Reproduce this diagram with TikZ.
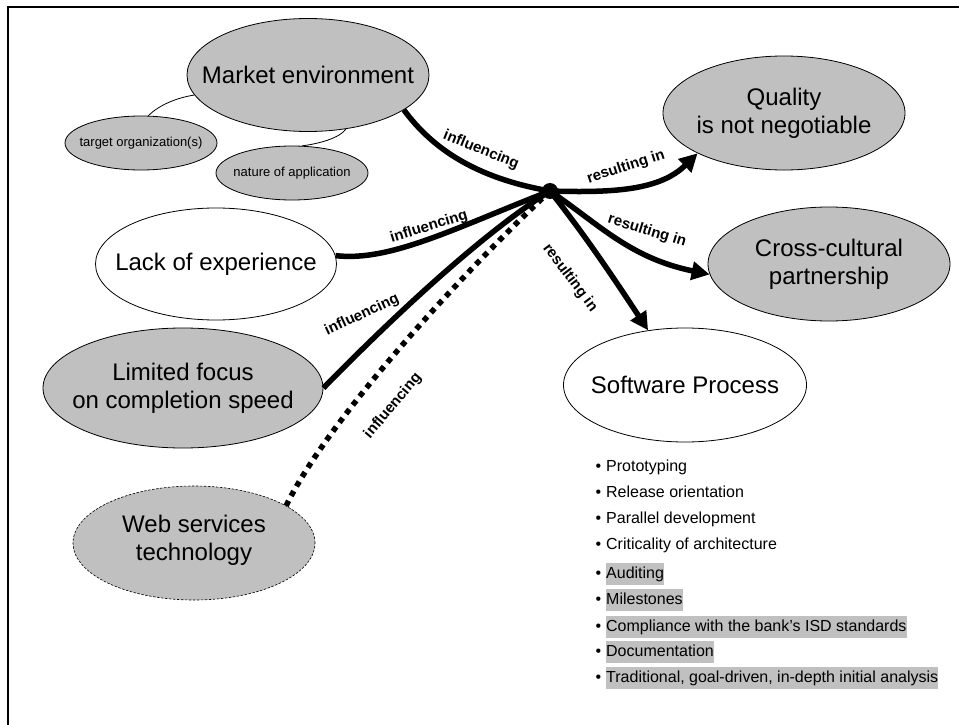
\documentclass[tikz,border=0pt]{standalone}
\usepackage{fontspec}
\setmainfont{Liberation Sans}
\usetikzlibrary{shapes.geometric,arrows.meta}
\definecolor{fillgray}{RGB}{192,192,192}
\begin{document}
\begin{tikzpicture}[x=1pt,y=-1pt,
  ell/.style={ellipse, draw, line width=0.8pt, inner sep=0pt,
    minimum width=242pt, minimum height=113pt},
  bigtxt/.style={align=center, inner sep=0pt, font=\fontsize{24}{28}\selectfont},
  smallell/.style={ellipse, draw, line width=0.8pt, fill=fillgray, inner sep=0pt,
    minimum width=152pt, minimum height=54pt},
  smalltxt/.style={inner sep=0pt, font=\fontsize{13}{15}\selectfont},
  thinconn/.style={line width=0.8pt},
  conn/.style={line width=5.5pt},
  dotconn/.style={line width=5.5pt, dash pattern=on 5.5pt off 5.5pt},
  arr/.style={conn, -{Triangle[length=18pt,width=18pt]}},
  lbl/.style={font=\bfseries\fontsize{15}{17}\selectfont, inner sep=0pt},
  item/.style={anchor=west, inner xsep=0pt, inner ysep=3pt, text height=12pt,
    text depth=4pt, font=\fontsize{16}{18}\selectfont},
  hl/.style={fill=fillgray}
]
\useasboundingbox (0,0) rectangle (959,725);
% frame
\coordinate (fbl) at (8,725);
\coordinate (ftl) at (8,7);
\coordinate (ftr) at (959,7);
\draw[line width=2pt] (fbl) -- (ftl) -- (ftr);

% ellipses
\node[ell, fill=fillgray] (me) at (308,75) {};
\node[smallell] (to) at (141,143) {};
\node[smallell] (na) at (292,173) {};
\node[ell, fill=white, minimum width=241pt, minimum height=112pt] (le) at (216,264) {};
\node[ell, fill=fillgray, minimum width=280pt, minimum height=120pt] (lf) at (183,388) {};
\node[ell, fill=fillgray, line width=0.6pt, dash pattern=on 2.5pt off 1.5pt, minimum height=114pt] (ws) at (194,543) {};
\node[ell, fill=fillgray, minimum height=114pt] (q) at (784,113) {};
\node[ell, fill=fillgray, minimum height=114pt] (cc) at (829,264) {};
\node[ell, fill=white, minimum width=243pt, minimum height=114pt] (sp) at (685,385) {};
\node[circle, fill=black, inner sep=0pt, minimum size=16pt] (hub) at (550,191) {};

% texts
\node[bigtxt] (met) at (me.center) {Market environment};
\node[smalltxt] (tot) at (to.center) {target organization(s)};
\node[smalltxt] (nat) at (na.center) {nature of application};
\node[bigtxt] (let) at (le.center) {Lack of experience};
\node[bigtxt] (lft) at (lf.center) {Limited focus\\on completion speed};
\node[bigtxt] (wst) at ([yshift=3pt]ws.center) {Web services\\technology};
\node[bigtxt] (qt) at (q.center) {Quality\\is not negotiable};
\node[bigtxt] (cct) at (cc.center) {Cross-cultural\\partnership};
\node[bigtxt] (spt) at (sp.center) {Software Process};

% thin connectors
\draw[thinconn] (me.190) .. controls (175,98) and (158,106) .. (to.75);
\draw[thinconn] (me.-55) .. controls (340,138) and (318,144) .. (na.70);

% influencing connectors
\draw[conn] (me.-20) .. controls (432,148) and (475,178) .. (hub.center);
\draw[conn] (le.4) .. controls (390,262) and (455,228) .. (hub.center);
\draw[conn] (lf.east) .. controls (390,320) and (480,235) .. (hub.center);
\draw[dotconn] (ws.22) .. controls (325,425) and (450,285) .. (hub.center);

% resulting connectors
\draw[arr] (hub.center) .. controls (615,193) and (660,190) .. (q.205);
\draw[arr] (hub.center) .. controls (600,225) and (630,258) .. (cc.185);
\draw[arr] (hub.center) .. controls (585,235) and (615,280) .. (sp.124);

% labels
\node[lbl, rotate=-22] (l1) at (481,150) {influencing};
\node[lbl, rotate=17] (l2) at (429,227) {influencing};
\node[lbl, rotate=25] (l3) at (362,315) {influencing};
\node[lbl, rotate=50] (l4) at (393,406) {influencing};
\node[lbl, rotate=18] (r1) at (626,167) {resulting in};
\node[lbl, rotate=-17] (r2) at (647,231) {resulting in};
\node[lbl, rotate=-53] (r3) at (570,278) {resulting in};

% list
\node[item] (i1) at (606,467) {\llap{\textbullet\hspace{5pt}}Prototyping};
\node[item] (i2) at (606,493) {\llap{\textbullet\hspace{5pt}}Release orientation};
\node[item] (i3) at (606,519) {\llap{\textbullet\hspace{5pt}}Parallel development};
\node[item] (i4) at (606,545) {\llap{\textbullet\hspace{5pt}}Criticality of architecture};
\node[item, hl] (i5) at (606,574) {\llap{\textbullet\hspace{5pt}}Auditing};
\node[item, hl] (i6) at (606,600) {\llap{\textbullet\hspace{5pt}}Milestones};
\node[item, hl] (i7) at (606,627) {\llap{\textbullet\hspace{5pt}}Compliance with the bank’s ISD standards};
\node[item, hl] (i8) at (606,652) {\llap{\textbullet\hspace{5pt}}Documentation};
\node[item, hl] (i9) at (606,678) {\llap{\textbullet\hspace{5pt}}Traditional, goal-driven, in-depth initial analysis};
\end{tikzpicture}
\end{document}
